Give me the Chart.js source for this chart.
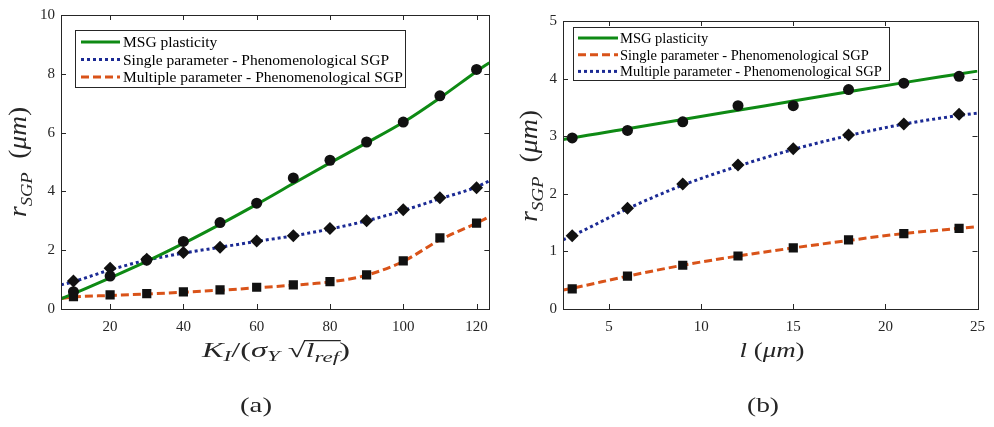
<!DOCTYPE html>
<html>
<head>
<meta charset="utf-8">
<script src="https://cdn.jsdelivr.net/npm/chart.js@4.4.0/dist/chart.umd.min.js"></script>
<style>
  body { margin: 0; background: #fff; }
  #wrap { position: relative; width: 994px; height: 427px; }
  .box { position: absolute; top: 0; width: 497px; height: 427px; }
</style>
</head>
<body>
<div id="wrap">
  <div class="box" style="left:0"><canvas id="chartA" width="497" height="427"></canvas></div>
  <div class="box" style="left:497px"><canvas id="chartB" width="497" height="427"></canvas></div>
</div>
<script>
// ---- (a) r_SGP vs K_I/(sigma_Y sqrt(l_ref)) ----
const kX = [10, 20, 30, 40, 50, 60, 70, 80, 90, 100, 110, 120];
const msgPtsA = [0.59, 1.12, 1.66, 2.30, 2.94, 3.60, 4.46, 5.06, 5.68, 6.36, 7.25, 8.15];
const singlePtsA = [0.95, 1.39, 1.69, 1.92, 2.10, 2.31, 2.49, 2.74, 3.00, 3.38, 3.78, 4.12];
const multiPtsA = [0.42, 0.48, 0.52, 0.58, 0.65, 0.74, 0.82, 0.93, 1.16, 1.64, 2.42, 2.92];
// fitted curves (extend to the axes edges)
const lineXA = [6.6, 10, 20, 30, 40, 50, 60, 70, 80, 90, 100, 110, 120, 123.5];
const msgLineA = [0.35, 0.52, 1.06, 1.62, 2.23, 2.88, 3.56, 4.27, 4.97, 5.65, 6.35, 7.18, 8.08, 8.38];
const singleLineA = [0.82, 0.93, 1.33, 1.66, 1.90, 2.10, 2.30, 2.49, 2.72, 3.00, 3.35, 3.75, 4.15, 4.36];
const multiLineA = [0.36, 0.41, 0.46, 0.51, 0.57, 0.64, 0.72, 0.81, 0.92, 1.15, 1.62, 2.35, 2.92, 3.14];
const xTicksA = [20, 40, 60, 80, 100, 120];
const yTicksA = [0, 2, 4, 6, 8, 10];

// ---- (b) r_SGP vs l ----
const lX = [3, 6, 9, 12, 15, 18, 21, 24];
const msgPtsB = [2.97, 3.10, 3.25, 3.53, 3.53, 3.81, 3.92, 4.04];
const singlePtsB = [0.35, 0.57, 0.76, 0.92, 1.06, 1.20, 1.31, 1.40];
const multiPtsB = [1.27, 1.75, 2.17, 2.50, 2.78, 3.02, 3.21, 3.38];
const lineXB = [2.5, 3, 6, 9, 12, 15, 18, 21, 24, 25];
const msgLineB = [2.94, 2.97, 3.13, 3.29, 3.45, 3.61, 3.77, 3.93, 4.08, 4.13];
const singleLineB = [0.33, 0.36, 0.57, 0.76, 0.92, 1.06, 1.19, 1.31, 1.40, 1.43];
const multiLineB = [1.20, 1.27, 1.74, 2.15, 2.48, 2.77, 3.01, 3.21, 3.36, 3.40];
const xTicksB = [5, 10, 15, 20, 25];
const yTicksB = [0, 1, 2, 3, 4, 5];

const GREEN = '#0e8a14', BLUE = '#1b2a94', ORANGE = '#d95319', AXIS = '#262626';
const SERIF = '"Liberation Serif", "DejaVu Serif", serif';

const pts = (xs, ys) => xs.map((x, i) => ({ x: x, y: ys[i] }));

function lineSet(label, xs, ys, color, dash) {
  return {
    label: label, data: pts(xs, ys), showLine: true, pointRadius: 0,
    borderColor: color, backgroundColor: color, borderWidth: 3, borderDash: dash,
    cubicInterpolationMode: 'monotone', order: 1
  };
}
function markSet(xs, ys, style, r) {
  return {
    label: '', data: pts(xs, ys), showLine: false, pointStyle: style, pointRadius: r,
    pointBackgroundColor: '#111', pointBorderColor: '#111', pointBorderWidth: 0, order: 0
  };
}

function hline(ctx, x0, y0, x1, y1) {
  ctx.beginPath(); ctx.moveTo(x0, y0); ctx.lineTo(x1, y1); ctx.stroke();
}

// box + inward ticks on all four sides
const frameTicks = {
  id: 'frameTicks',
  afterDraw(chart) {
    const { ctx, chartArea: a, scales } = chart;
    const L = 5;
    ctx.save();
    ctx.strokeStyle = AXIS; ctx.lineWidth = 1;
    ctx.strokeRect(Math.round(a.left) + 0.5, Math.round(a.top) + 0.5,
      Math.round(a.right - a.left), Math.round(a.bottom - a.top));
    scales.x.ticks.forEach(t => {
      const px = Math.round(scales.x.getPixelForValue(t.value)) + 0.5;
      hline(ctx, px, a.bottom, px, a.bottom - L);
      hline(ctx, px, a.top, px, a.top + L);
    });
    scales.y.ticks.forEach(t => {
      const py = Math.round(scales.y.getPixelForValue(t.value)) + 0.5;
      hline(ctx, a.left, py, a.left + L, py);
      hline(ctx, a.right, py, a.right - L, py);
    });
    ctx.restore();
  }
};

// boxed legend inside the axes
const boxLegend = {
  id: 'boxLegend',
  afterDraw(chart, args, o) {
    const ctx = chart.ctx;
    ctx.save();
    ctx.fillStyle = '#fff'; ctx.fillRect(o.x, o.y, o.w, o.h);
    ctx.strokeStyle = AXIS; ctx.lineWidth = 1;
    ctx.strokeRect(o.x + 0.5, o.y + 0.5, o.w, o.h);
    ctx.font = o.size + 'px ' + SERIF; ctx.textBaseline = 'middle';
    o.items.forEach((idx, i) => {
      const ds = chart.data.datasets[idx];
      const y = o.rowY + i * o.rowH;
      ctx.strokeStyle = ds.borderColor; ctx.lineWidth = ds.borderWidth;
      ctx.setLineDash(ds.borderDash || []);
      hline(ctx, o.x + o.sx0, y, o.x + o.sx1, y);
      ctx.setLineDash([]);
      ctx.fillStyle = '#000';
      ctx.fillText(ds.label, o.x + o.tx, y + 1);
    });
    ctx.restore();
  }
};

// math-like axis titles drawn as rich text, stretched to the target width
function drawRich(ctx, it) {
  const segs = it.segs;
  ctx.save();
  ctx.translate(it.x, it.y);
  if (it.rot) ctx.rotate(it.rot);
  const font = s => (s.it ? 'italic ' : '') + s.s + 'px ' + SERIF;
  let w = 0;
  segs.forEach(s => { ctx.font = font(s); s.w = ctx.measureText(s.t).width; w += s.w; });
  if (it.w) ctx.scale(it.w / w, 1);
  let x = -w / 2, ox0 = null, ox1 = null, oy = 0;
  ctx.textBaseline = 'alphabetic'; ctx.fillStyle = AXIS;
  segs.forEach(s => {
    ctx.font = font(s);
    ctx.fillText(s.t, x, s.dy || 0);
    if (s.root) oy = -0.78 * s.s;
    if (s.over) { if (ox0 === null) ox0 = x; ox1 = x + s.w; }
    x += s.w;
  });
  if (ox0 !== null) {
    ctx.strokeStyle = AXIS; ctx.lineWidth = 1.1;
    hline(ctx, ox0 - 1, oy, ox1 + 1, oy);
  }
  ctx.restore();
}
const mathTitles = {
  id: 'mathTitles',
  afterDraw(chart, args, o) {
    o.items.forEach(it => drawRich(chart.ctx, it));
  }
};

function yTitle() {
  return [
    { t: 'r', it: true, s: 25 }, { t: 'SGP', it: true, s: 17, dy: 6 },
    { t: '  (', s: 25 }, { t: 'μm', it: true, s: 25 }, { t: ')', s: 25 }
  ];
}

function scalesFor(xMin, xMax, yMax, xTicks, yTicks, yWidth) {
  const tickFont = { family: SERIF, size: 15 };
  return {
    x: {
      type: 'linear', min: xMin, max: xMax,
      afterFit: s => { s.height = 118; },
      afterBuildTicks: s => { s.ticks = xTicks.map(v => ({ value: v })); },
      grid: { display: false, drawTicks: false }, border: { display: false },
      ticks: { color: AXIS, font: tickFont, padding: 9, maxRotation: 0, autoSkip: false }
    },
    y: {
      type: 'linear', min: 0, max: yMax,
      afterFit: s => { s.width = yWidth; },
      afterBuildTicks: s => { s.ticks = yTicks.map(v => ({ value: v })); },
      grid: { display: false, drawTicks: false }, border: { display: false },
      ticks: { color: AXIS, font: tickFont, padding: 6, autoSkip: false }
    }
  };
}

new Chart('chartA', {
  type: 'scatter',
  data: {
    datasets: [
      lineSet('MSG plasticity', lineXA, msgLineA, GREEN, []),
      lineSet('Single parameter - Phenomenological SGP', lineXA, singleLineA, BLUE, [3, 3]),
      lineSet('Multiple parameter - Phenomenological SGP', lineXA, multiLineA, ORANGE, [8, 4]),
      markSet(kX, msgPtsA, 'circle', 5.5),
      markSet(kX, singlePtsA, 'rectRot', 6.5),
      markSet(kX, multiPtsA, 'rect', 6.5)
    ]
  },
  options: {
    responsive: false, animation: false,
    layout: { padding: { top: 12, right: 7, left: 0, bottom: 0 } },
    scales: scalesFor(6.6, 123.5, 10, xTicksA, yTicksA, 61),
    plugins: {
      legend: { display: false }, tooltip: { enabled: false },
      boxLegend: { x: 75, y: 30, w: 330, h: 57, size: 15.5, items: [0, 1, 2], rowY: 42, rowH: 17.5, sx0: 6, sx1: 45, tx: 48 },
      mathTitles: {
        items: [
          { segs: yTitle(), x: 26, y: 162, rot: -Math.PI / 2, w: 110 },
          {
            segs: [
              { t: 'K', it: true, s: 21 }, { t: 'I', it: true, s: 15, dy: 4 },
              { t: '/(', s: 21 }, { t: 'σ', it: true, s: 21 }, { t: 'Y', it: true, s: 15, dy: 4 },
              { t: ' √', s: 21, root: true }, { t: 'l', it: true, s: 21, over: true },
              { t: 'ref', it: true, s: 15, dy: 5, over: true }, { t: ')', s: 21 }
            ], x: 276, y: 357, w: 148
          },
          { segs: [{ t: '(a)', s: 21 }], x: 256, y: 412, w: 32 }
        ]
      }
    }
  },
  plugins: [frameTicks, boxLegend, mathTitles]
});

new Chart('chartB', {
  type: 'scatter',
  data: {
    datasets: [
      lineSet('MSG plasticity', lineXB, msgLineB, GREEN, []),
      lineSet('Single parameter - Phenomenological SGP', lineXB, singleLineB, ORANGE, [8, 4]),
      lineSet('Multiple parameter - Phenomenological SGP', lineXB, multiLineB, BLUE, [3, 3]),
      markSet(lX, msgPtsB, 'circle', 5.5),
      markSet(lX, singlePtsB, 'rect', 6.5),
      markSet(lX, multiPtsB, 'rectRot', 6.5)
    ]
  },
  options: {
    responsive: false, animation: false,
    layout: { padding: { top: 21, right: 11, left: 0, bottom: 0 } },
    scales: scalesFor(2.5, 25, 5, xTicksB, yTicksB, 66),
    plugins: {
      legend: { display: false }, tooltip: { enabled: false },
      boxLegend: { x: 76, y: 27, w: 316, h: 53, size: 14.5, items: [0, 1, 2], rowY: 38, rowH: 16.7, sx0: 5, sx1: 45, tx: 47 },
      mathTitles: {
        items: [
          { segs: yTitle(), x: 40, y: 166, rot: -Math.PI / 2, w: 112 },
          {
            segs: [
              { t: 'l', it: true, s: 21 }, { t: ' (', s: 21 },
              { t: 'μm', it: true, s: 21 }, { t: ')', s: 21 }
            ], x: 275, y: 357, w: 65
          },
          { segs: [{ t: '(b)', s: 21 }], x: 266, y: 412, w: 32 }
        ]
      }
    }
  },
  plugins: [frameTicks, boxLegend, mathTitles]
});
</script>
</body>
</html>
